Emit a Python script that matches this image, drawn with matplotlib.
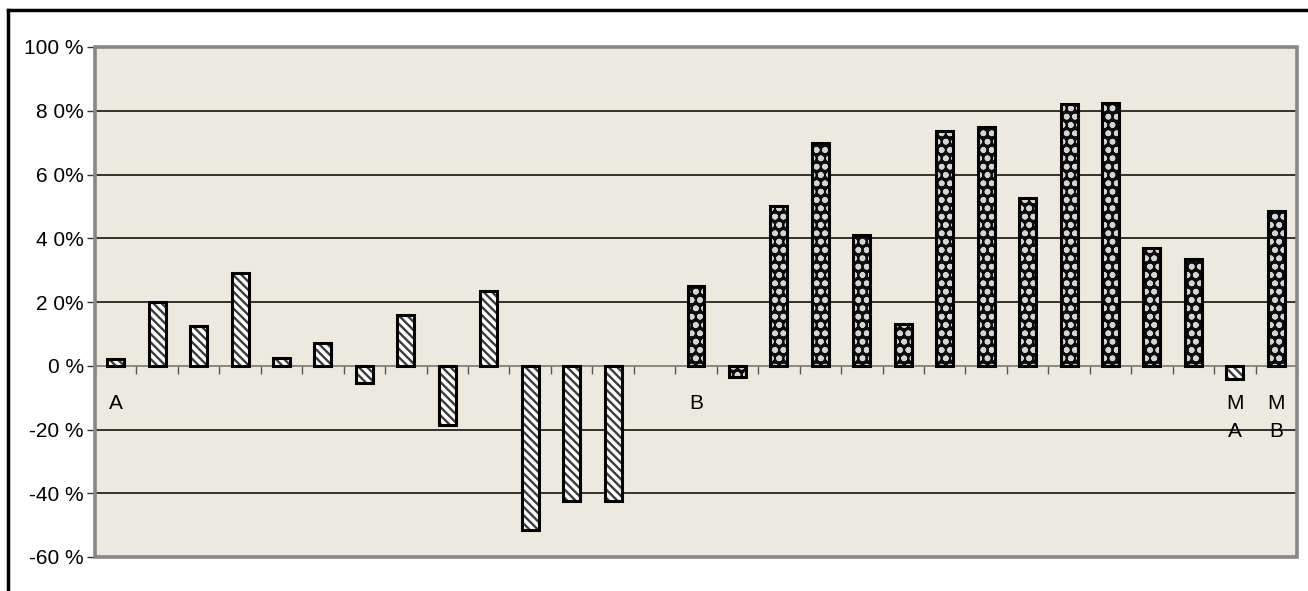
import matplotlib
matplotlib.use("Agg")
import matplotlib.pyplot as plt
from matplotlib.patches import Rectangle
from matplotlib.lines import Line2D
import numpy as np

# ---- data ----
labels = ["A", "", "", "", "", "", "", "", "", "", "", "", "", "",
          "B", "", "", "", "", "", "", "", "", "", "", "", "", "M\nA", "M\nB"]
series_a = [2, 20, 12.5, 29, 2.5, 7, -5.5, 16, -18.5, 23.5, -51.5, -42.5, -42.5, None,
            None, None, None, None, None, None, None, None, None, None, None, None, None, -4, None]
series_b = [None, None, None, None, None, None, None, None, None, None, None, None, None, None,
            25, -3.5, 50, 70, 41, 13, 73.5, 75, 52.5, 82, 82.5, 37, 33.5, None, 48.5]
ytick_vals = [-60, -40, -20, 0, 20, 40, 60, 80, 100]
ytick_labels = ["-60 %", "-40 %", "-20 %", "0 %", "2 0%", "4 0%", "6 0%", "8 0%", "100 %"]

plt.rcParams['font.family'] = ['Liberation Sans', 'DejaVu Sans']
plt.rcParams['hatch.linewidth'] = 1.7

W, H = 1308, 591
fig = plt.figure(figsize=(W / 100, H / 100), dpi=100)
fig.patch.set_facecolor('white')

ax = fig.add_axes([95 / W, (H - 557) / H, (1297 - 95) / W, (557 - 47) / H])
ax.set_facecolor('#ECE9DF')

n = len(labels)
x = np.arange(n)
bw = 0.41

def split(vals):
    xs = [i for i, v in enumerate(vals) if v is not None]
    ys = [vals[i] for i in xs]
    return xs, ys

xa, ya = split(series_a)
xb, yb = split(series_b)

# light hatched series
ax.bar(xa, ya, bw, color='white', edgecolor='#3c3c3c', hatch='\\\\\\\\', linewidth=0, zorder=3)
ax.bar(xa, ya, bw, color='none', edgecolor='black', linewidth=2.2, zorder=4)
# dark dotted series
ax.bar(xb, yb, bw, color='#0d0d0d', edgecolor='#d4d4d4', hatch='oo', linewidth=0, zorder=3)
ax.bar(xb, yb, bw, color='none', edgecolor='black', linewidth=2.2, zorder=4)

ax.set_xlim(-0.5, n - 0.5)
ax.set_ylim(-60, 100)

# y axis
ax.set_yticks(ytick_vals)
ax.set_yticklabels(ytick_labels, fontsize=15)
ax.tick_params(axis='y', length=6, width=1, color='#333333', pad=2, direction='out')
ax.yaxis.grid(True, color='black', linewidth=1.1, zorder=1)
ax.set_axisbelow(True)
for gl, v in zip(ax.get_ygridlines(), ytick_vals):
    if v in (0, -60, 100):
        gl.set_visible(False)

# x axis at zero
for s in ['top', 'right', 'left']:
    ax.spines[s].set_visible(False)
ax.spines['bottom'].set_position(('data', 0))
ax.spines['bottom'].set_color('#777777')
ax.spines['bottom'].set_linewidth(1.2)
ax.spines['bottom'].set_zorder(2)
ax.set_xticks(x)
ax.set_xticklabels(labels, fontsize=15, linespacing=1.6)
ax.tick_params(axis='x', which='major', length=0, pad=20)
ax.set_xticks(np.arange(n + 1) - 0.5, minor=True)
ax.tick_params(axis='x', which='minor', length=6, width=1, color='#555555', direction='out')

# plot area frame
ax.add_patch(Rectangle((0, 0), 1, 1, transform=ax.transAxes, fill=False,
                       edgecolor='#888888', linewidth=2.6, zorder=6, clip_on=False))

# outer chart frame (open to right and bottom)
fig.add_artist(Line2D([8 / W, 1.0], [1 - 10 / H, 1 - 10 / H], color='black', linewidth=2.5))
fig.add_artist(Line2D([8 / W, 8 / W], [0, 1 - 10 / H], color='black', linewidth=2.5))

fig.savefig('out.png', dpi=100, facecolor='white')
